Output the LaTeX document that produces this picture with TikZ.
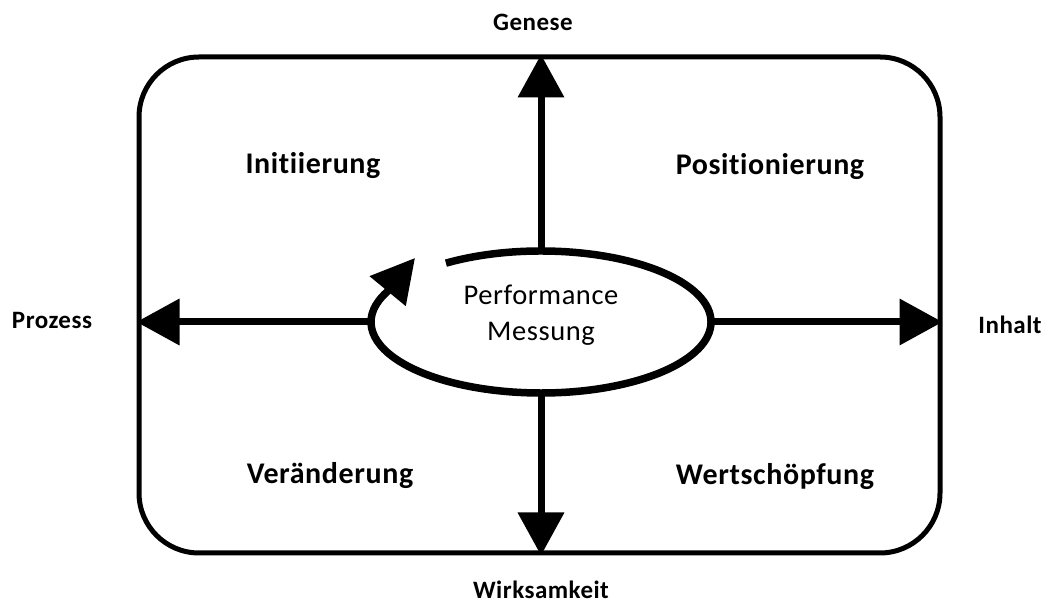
\documentclass[tikz,border=0pt]{standalone}
\usepackage{fontspec}
\setmainfont{Carlito}[Ligatures={NoCommon}, LetterSpace=2]
\usetikzlibrary{arrows.meta,shapes.geometric}
\begin{document}
\begin{tikzpicture}[x=1pt,y=1pt,
  axis/.style={line width=7pt, -{Triangle[length=43pt,width=45pt]}},
  cycle/.style={line width=7.5pt, -{Triangle[length=43pt,width=45pt]}},
  quad/.style={font=\fontsize{30}{34}\selectfont\bfseries},
  pole/.style={font=\fontsize{25}{29}\selectfont\bfseries},
  centre/.style={font=\fontsize{28.5}{36}\selectfont, align=center}]
\useasboundingbox (0,0) rectangle (1044,605);

% outer frame
\node[draw, line width=5pt, rounded corners=60pt, minimum width=801pt,
      minimum height=496pt, inner sep=0pt] (frame) at (539.5,300) {};

% central ellipse (shape only used for anchors; the open ring is drawn below)
\node[ellipse, minimum width=340pt, minimum height=142pt, inner sep=0pt] (pm) at (541,283) {};
\node[centre] (pmtext) at (541,290) {Performance\\Messung};

% open ring with arrow head
\draw[cycle] (pm.center) ++(124:170pt and 71pt)
  arc[start angle=124, end angle=-205, x radius=170pt, y radius=71pt]
  -- (415,347);

% axes
\draw[axis] (pm.north) -- (pm.north |- frame.north);
\draw[axis] (pm.south) -- (pm.south |- frame.south);
\draw[axis] (pm.west) -- (pm.west -| frame.west);
\draw[axis] (pm.east) -- (pm.east -| frame.east);

% pole labels
\node[pole] (genese) at (533,583) {Genese};
\node[pole] (prozess) at (52,285) {Prozess};
\node[pole] (inhalt) at (1010,280) {Inhalt};
\node[pole] (wirk) at (541,15) {Wirksamkeit};

% quadrant labels
\node[quad] (q1) at (313,439) {Initiierung};
\node[quad] (q2) at (770,438) {Positionierung};
\node[quad] (q3) at (330,129) {Veränderung};
\node[quad] (q4) at (775,128) {Wertschöpfung};
\end{tikzpicture}
\end{document}
